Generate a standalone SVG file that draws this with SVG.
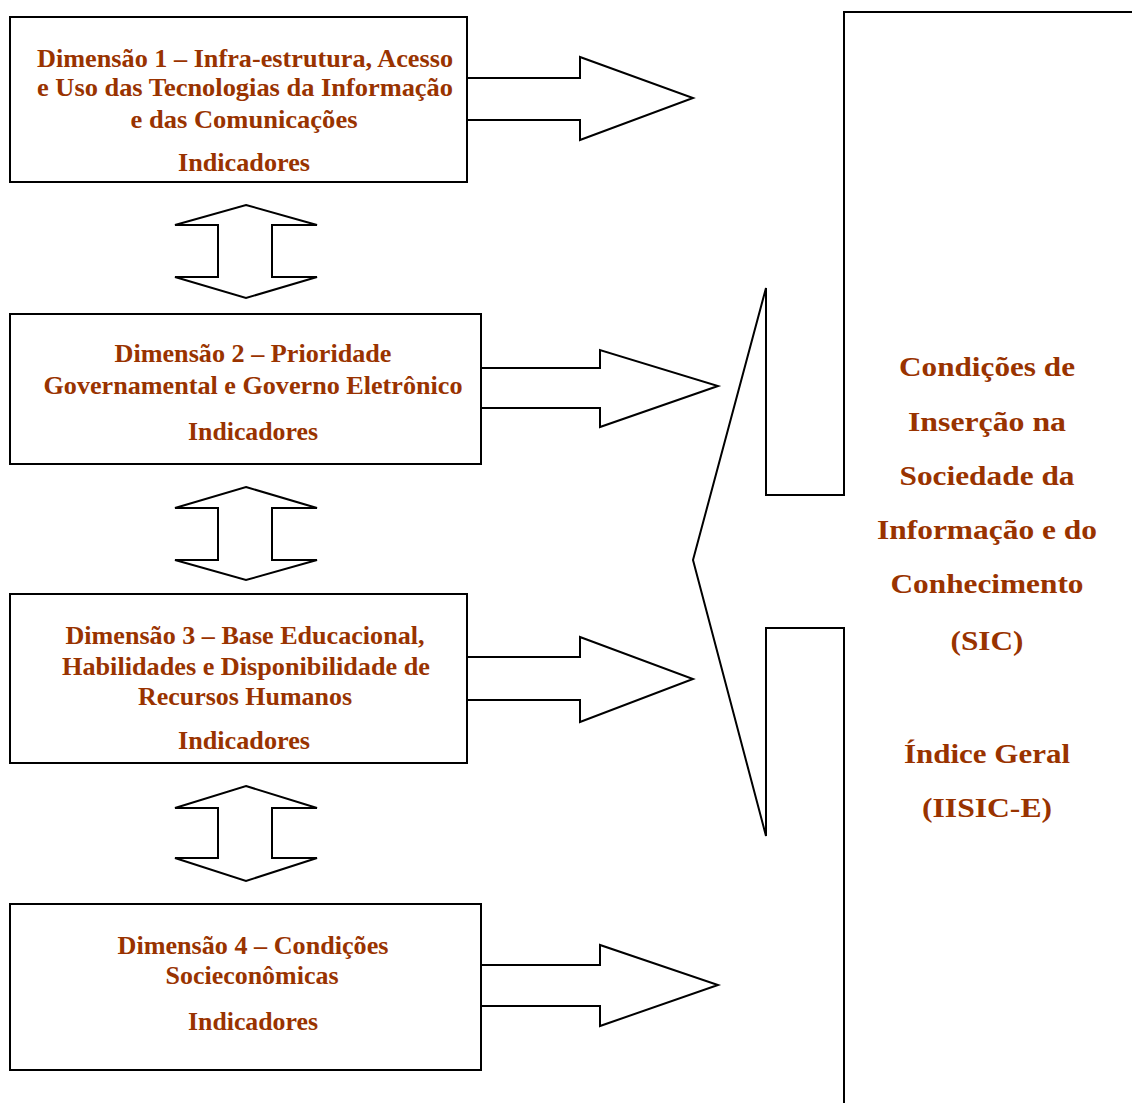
<svg xmlns="http://www.w3.org/2000/svg" width="1132" height="1103" viewBox="0 0 1132 1103">
<style>
.shape{fill:#fff;stroke:#000;stroke-width:2;stroke-linejoin:miter}
.t{font-family:"Liberation Serif","Times New Roman",serif;font-weight:bold;font-size:25px;fill:#993300;text-anchor:middle}
.r{font-family:"Liberation Serif","Times New Roman",serif;font-weight:bold;font-size:28px;fill:#993300;text-anchor:middle}
</style>
<rect width="1132" height="1103" fill="#fff"/>
<g id="sic">
<path class="shape" d="M1132,12 H844 V495 H766 V288 L693,560 L766,836 V628 H844 V1103" fill="none"/>
<text class="r" x="987" y="376" textLength="176" lengthAdjust="spacingAndGlyphs">Condições de</text>
<text class="r" x="987" y="431" textLength="158" lengthAdjust="spacingAndGlyphs">Inserção na</text>
<text class="r" x="987" y="485" textLength="175" lengthAdjust="spacingAndGlyphs">Sociedade da</text>
<text class="r" x="987" y="539" textLength="220" lengthAdjust="spacingAndGlyphs">Informação e do</text>
<text class="r" x="987" y="593" textLength="193" lengthAdjust="spacingAndGlyphs">Conhecimento</text>
<text class="r" x="987" y="650" textLength="73" lengthAdjust="spacingAndGlyphs">(SIC)</text>
<text class="r" x="987" y="763" textLength="166" lengthAdjust="spacingAndGlyphs">Índice Geral</text>
<text class="r" x="987" y="817" textLength="130" lengthAdjust="spacingAndGlyphs">(IISIC-E)</text>
</g>
<g id="connectors">
<path class="shape" d="M467,78 H580 V57 L693,98 L580,140 V120 H467"/>
<path class="shape" d="M481,368 H600 V350 L718,386 L600,427 V408 H481"/>
<path class="shape" d="M467,657 H580 V637 L693,679 L580,722 V700 H467"/>
<path class="shape" d="M481,965 H600 V945 L718,985 L600,1026 V1006 H481"/>
<polygon class="shape" points="246,205 317,225 272,225 272,277 317,277 246,298 175,277 218,277 218,225 175,225"/>
<polygon class="shape" points="246,487 317,508 272,508 272,560 317,560 246,580 175,560 218,560 218,508 175,508"/>
<polygon class="shape" points="246,786 317,808 272,808 272,858 317,858 246,881 175,858 218,858 218,808 175,808"/>
</g>
<g id="dim1">
<rect class="shape" x="10" y="17" width="457" height="165"/>
<text class="t" x="245" y="67" textLength="416" lengthAdjust="spacingAndGlyphs">Dimensão 1 – Infra-estrutura, Acesso</text>
<text class="t" x="245" y="96" textLength="416" lengthAdjust="spacingAndGlyphs">e Uso das Tecnologias da Informação</text>
<text class="t" x="244" y="128" textLength="227" lengthAdjust="spacingAndGlyphs">e das Comunicações</text>
<text class="t" x="244" y="171" textLength="132" lengthAdjust="spacingAndGlyphs">Indicadores</text>
</g>
<g id="dim2">
<rect class="shape" x="10" y="314" width="471" height="150"/>
<text class="t" x="253" y="362" textLength="277" lengthAdjust="spacingAndGlyphs">Dimensão 2 – Prioridade</text>
<text class="t" x="253" y="394" textLength="419" lengthAdjust="spacingAndGlyphs">Governamental e Governo Eletrônico</text>
<text class="t" x="253" y="440" textLength="130" lengthAdjust="spacingAndGlyphs">Indicadores</text>
</g>
<g id="dim3">
<rect class="shape" x="10" y="594" width="457" height="169"/>
<text class="t" x="245" y="644" textLength="359" lengthAdjust="spacingAndGlyphs">Dimensão 3 – Base Educacional,</text>
<text class="t" x="246" y="675" textLength="368" lengthAdjust="spacingAndGlyphs">Habilidades e Disponibilidade de</text>
<text class="t" x="245" y="705" textLength="214" lengthAdjust="spacingAndGlyphs">Recursos Humanos</text>
<text class="t" x="244" y="749" textLength="132" lengthAdjust="spacingAndGlyphs">Indicadores</text>
</g>
<g id="dim4">
<rect class="shape" x="10" y="904" width="471" height="166"/>
<text class="t" x="253" y="954" textLength="271" lengthAdjust="spacingAndGlyphs">Dimensão 4 – Condições</text>
<text class="t" x="252" y="984" textLength="173" lengthAdjust="spacingAndGlyphs">Socieconômicas</text>
<text class="t" x="253" y="1030" textLength="130" lengthAdjust="spacingAndGlyphs">Indicadores</text>
</g>
</svg>
